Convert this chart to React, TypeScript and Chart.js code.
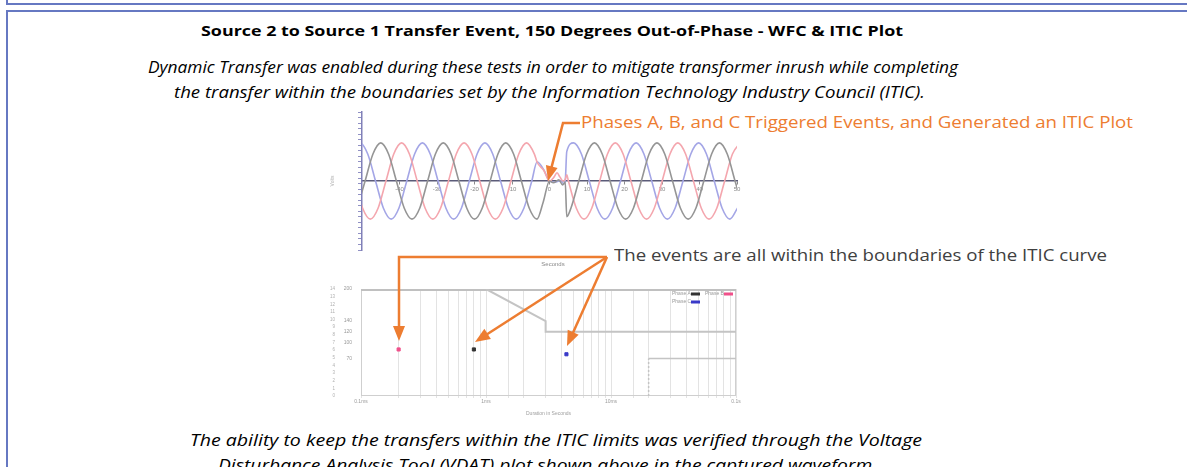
import React, { useEffect, useLayoutEffect, useRef } from "react";
import { Chart, registerables } from "chart.js";
Chart.register(...registerables);

const ORANGE = "#ED7D31";

// ---------------- Waveform capture (time in ms, voltage in V) ----------------
const waveSeriesNames = ["Phase A", "Phase B", "Phase C"];
const phaseGrayWave: [number, number][] = [
  [-51.25, -488], [-49.17, 0], [-47.08, 488], [-45.0, 690], [-42.92, 488], [-40.83, 0], [-38.75, -488], [-36.67, -690],
  [-34.58, -488], [-32.5, 0], [-30.42, 488], [-28.33, 690], [-26.25, 488], [-24.17, 0], [-22.08, -488], [-20.0, -690],
  [-17.92, -488], [-15.83, 0], [-13.75, 488], [-11.67, 690], [-9.58, 488], [-7.5, 0], [-5.42, -488], [-3.33, -690],
  [-1.67, -380], [0.0, 0], [1.0, -30], [2.5, 20], [3.5, -70], [4.2, -20], [4.6, -646], [5.73, -488], [7.81, 0],
  [9.9, 488], [11.98, 690], [14.06, 488], [16.15, 0], [18.23, -488], [20.31, -690], [22.4, -488], [24.48, 0],
  [26.56, 488], [28.65, 690], [30.73, 488], [32.81, 0], [34.9, -488], [36.98, -690], [39.06, -488], [41.15, 0],
  [43.23, 488], [45.32, 690], [47.4, 488], [49.48, 0], [51.56, -488],
];
const phasePinkWave: [number, number][] = [
  [-51.94, 0], [-49.86, -488], [-47.78, -690], [-45.69, -488], [-43.61, 0], [-41.53, 488], [-39.44, 690], [-37.36, 488],
  [-35.28, 0], [-33.19, -488], [-31.11, -690], [-29.03, -488], [-26.94, 0], [-24.86, 488], [-22.78, 690], [-20.69, 488],
  [-18.61, 0], [-16.53, -488], [-14.44, -690], [-12.36, -488], [-10.28, 0], [-8.19, 488], [-6.11, 690], [-4.03, 488],
  [-3.3, 340], [-1.5, 190], [0.0, 0], [1.2, 70], [2.0, 150], [2.8, 70], [3.6, 0], [4.2, 30], [4.6, 113], [5.04, 0],
  [7.13, -488], [9.21, -690], [11.29, -488], [13.38, 0], [15.46, 488], [17.54, 690], [19.63, 488], [21.71, 0],
  [23.79, -488], [25.88, -690], [27.96, -488], [30.04, 0], [32.13, 488], [34.21, 690], [36.29, 488], [38.38, 0],
  [40.46, -488], [42.54, -690], [44.63, -488], [46.71, 0], [48.79, 488], [50.88, 690],
];
const phaseBlueWave: [number, number][] = [
  [-52.64, 488], [-50.56, 690], [-48.47, 488], [-46.39, 0], [-44.31, -488], [-42.22, -690], [-40.14, -488], [-38.06, 0],
  [-35.97, 488], [-33.89, 690], [-31.81, 488], [-29.72, 0], [-27.64, -488], [-25.56, -690], [-23.47, -488], [-21.39, 0],
  [-19.31, 488], [-17.22, 690], [-15.14, 488], [-13.06, 0], [-10.97, -488], [-8.89, -690], [-6.81, -488], [-4.72, 0],
  [-3.3, 350], [-1.5, 200], [0.0, 0], [1.5, -20], [3.0, 10], [3.8, -50], [4.2, 0], [4.6, 532], [6.43, 690],
  [8.51, 488], [10.6, 0], [12.68, -488], [14.76, -690], [16.85, -488], [18.93, 0], [21.01, 488], [23.1, 690],
  [25.18, 488], [27.26, 0], [29.35, -488], [31.43, -690], [33.51, -488], [35.6, 0], [37.68, 488], [39.77, 690],
  [41.85, 488], [43.93, 0], [46.01, -488], [48.1, -690], [50.18, -488],
];
const waveXTickValues = [-40, -30, -20, -10, 0, 10, 20, 30, 40, 50];
const waveXTickLabels = ["-40", "-30", "-20", "-10", "0", "10", "20", "30", "40", "50"];
const waveYTickValues = [-1000, -500, 0, 500, 1000];
const waveYTickLabels = ["-1000", "-500", "0", "500", "1000"];

// ---------------- ITIC plot (duration in ms, magnitude in %) ----------------
const iticUpperLimit: [number, number][] = [[1, 200], [3, 140], [3, 120], [100, 120]];
const iticLowerLimit: [number, number][] = [[20, 0], [20, 70], [100, 70]];
const phaseLabels = ["Phase A", "Phase B", "Phase C"];
const phaseColors = ["#333333", "#f0508a", "#3a3ac8"];
const eventDuration = [0.8, 0.2, 4.4];
const eventMagnitude = [87, 87, 78];
const iticXTickValues = [0.1, 1, 10, 100];
const iticXTickLabels = ["0.1ms", "1ms", "10ms", "0.1s"];
const iticYTickValues = [70, 100, 120, 140, 200];
const iticYTickLabels = ["70", "100", "120", "140", "200"];

const TINY = "'Liberation Sans', Arial, sans-serif";

function WaveChart() {
  const ref = useRef<HTMLCanvasElement>(null);
  useEffect(() => {
    const waves = [phaseGrayWave, phasePinkWave, phaseBlueWave];
    const colors = ["#959595", "#f4a6ae", "#a4a6e6"];
    const chart = new Chart(ref.current!, {
      type: "line",
      data: {
        datasets: waves.map((w, i) => ({
          label: waveSeriesNames[i],
          data: w.map(([x, y]) => ({ x, y })),
          borderColor: colors[i],
          borderWidth: 1.6,
          pointRadius: 0,
          cubicInterpolationMode: "monotone" as const,
          fill: false,
        })),
      },
      options: {
        animation: false,
        responsive: false,
        events: [],
        layout: { padding: { top: 6, right: 8, bottom: 26, left: 0 } },
        plugins: { legend: { display: false }, tooltip: { enabled: false } },
        scales: {
          x: {
            type: "linear",
            min: -50,
            max: 50,
            position: { y: 0 } as any,
            afterBuildTicks: (s: any) => {
              s.ticks = waveXTickValues.map((v) => ({ value: v }));
            },
            ticks: {
              autoSkip: false,
              maxRotation: 0,
              font: { size: 6, family: TINY },
              color: "#8a8a8a",
              padding: 2,
              callback: (v: any) => {
                const i = waveXTickValues.indexOf(Number(v));
                return i >= 0 ? waveXTickLabels[i] : "";
              },
            },
            grid: { drawOnChartArea: false, tickLength: 3, color: "#8a8a8a" },
            border: { color: "#5b5b78", width: 1.5 },
          },
          y: {
            min: -1250,
            max: 1250,
            ticks: {
              stepSize: 100,
              autoSkip: false,
              font: { size: 6, family: TINY },
              color: "#8a8a8a",
              padding: 1,
              callback: (v: any) => {
                const i = waveYTickValues.indexOf(Number(v));
                return i >= 0 ? waveYTickLabels[i] : "";
              },
            },
            grid: { drawOnChartArea: false, tickLength: 4, color: "#9090c4" },
            border: { color: "#8080b8", width: 1.5 },
            title: { display: true, text: "Volts", font: { size: 5, family: TINY }, color: "#b0b0b0", padding: 0 },
            afterFit: (s: any) => {
              s.width = 32;
            },
          },
        },
      },
    });
    return () => chart.destroy();
  }, []);
  return (
    <canvas
      ref={ref}
      width={415}
      height={170}
      style={{ position: "absolute", left: 330, top: 106, width: 415, height: 170, filter: "blur(0.55px)" }}
    />
  );
}

function IticChart() {
  const ref = useRef<HTMLCanvasElement>(null);
  useEffect(() => {
    const frame = {
      id: "frame",
      beforeDatasetsDraw(chart: any) {
        const { ctx, chartArea } = chart;
        const { left, top, right, bottom } = chartArea;
        ctx.save();
        ctx.strokeStyle = "#cfcfcf";
        ctx.lineWidth = 1;
        ctx.strokeRect(left + 0.5, top + 0.5, right - left - 1, bottom - top - 1);
        ctx.strokeStyle = "#c0c0c0";
        ctx.lineWidth = 2;
        ctx.beginPath();
        ctx.moveTo(left, top + 1);
        ctx.lineTo(right, top + 1);
        ctx.stroke();
        ctx.restore();
      },
    };
    const legendBox = {
      id: "legendBox",
      afterDraw(chart: any) {
        const { ctx, chartArea } = chart;
        const rows = [[0, 1], [2]];
        ctx.save();
        ctx.font = `5px ${TINY}`;
        ctx.textBaseline = "middle";
        rows.forEach((row, r) => {
          const y = chartArea.top + 5 + r * 8;
          row.forEach((idx, c) => {
            const x = chartArea.right - 64 + c * 33;
            ctx.fillStyle = "#999";
            ctx.fillText(phaseLabels[idx], x, y);
            ctx.fillStyle = phaseColors[idx];
            ctx.fillRect(x + 19, y - 1.5, 9, 3);
          });
        });
        ctx.restore();
      },
    };
    const near = (a: number, b: number) => Math.abs(a - b) < 1e-9 * Math.max(1, Math.abs(b));
    const chart = new Chart(ref.current!, {
      type: "scatter",
      data: {
        datasets: [
          {
            label: "ITIC upper",
            data: iticUpperLimit.map(([x, y]) => ({ x, y })),
            showLine: true,
            borderColor: "#c4c4c4",
            borderWidth: 2,
            pointRadius: 0,
          },
          {
            label: "ITIC lower",
            data: iticLowerLimit.map(([x, y]) => ({ x, y })),
            showLine: true,
            borderColor: "#c4c4c4",
            borderWidth: 1.5,
            pointRadius: 0,
            segment: { borderDash: (ctx: any) => (ctx.p0DataIndex === 0 ? [2, 2] : undefined) },
          } as any,
          ...phaseLabels.map((lbl, i) => ({
            label: lbl,
            data: [{ x: eventDuration[i], y: eventMagnitude[i] }],
            backgroundColor: phaseColors[i],
            borderColor: phaseColors[i],
            pointStyle: "rect" as const,
            pointRadius: 2.2,
            showLine: false,
          })),
        ],
      },
      options: {
        animation: false,
        responsive: false,
        events: [],
        layout: { padding: { top: 6, right: 9, bottom: 0, left: 0 } },
        plugins: { legend: { display: false }, tooltip: { enabled: false } },
        scales: {
          x: {
            type: "logarithmic",
            min: 0.1,
            max: 100,
            ticks: {
              autoSkip: false,
              maxRotation: 0,
              font: { size: 5, family: TINY },
              color: "#9a9a9a",
              padding: 1,
              callback: (v: any) => {
                const i = iticXTickValues.findIndex((t) => near(Number(v), t));
                return i >= 0 ? iticXTickLabels[i] : "";
              },
            },
            grid: { color: "#e3e3e3", tickLength: 2 },
            border: { display: false },
            title: { display: true, text: "Duration in Seconds", font: { size: 5, family: TINY }, color: "#a0a0a0", padding: 1 },
            afterFit: (s: any) => {
              s.height = 22;
            },
          },
          y: {
            min: 0,
            max: 200,
            weight: 0,
            afterBuildTicks: (s: any) => {
              s.ticks = iticYTickValues.map((v) => ({ value: v }));
            },
            ticks: {
              autoSkip: false,
              font: { size: 5, family: TINY },
              color: "#9a9a9a",
              padding: 1,
              callback: (v: any) => {
                const i = iticYTickValues.indexOf(Number(v));
                return i >= 0 ? iticYTickLabels[i] : "";
              },
            },
            grid: { display: false },
            border: { display: false },
            afterFit: (s: any) => {
              s.width = 17;
            },
          },
          y2: {
            position: "left",
            min: 0,
            max: 14,
            weight: 1,
            ticks: { stepSize: 1, autoSkip: false, font: { size: 4.5, family: TINY }, color: "#b0b0b0", padding: 1 },
            grid: { display: false },
            border: { display: false },
            afterFit: (s: any) => {
              s.width = 14;
            },
          },
        },
      },
      plugins: [frame, legendBox],
    });
    return () => chart.destroy();
  }, []);
  return (
    <canvas
      ref={ref}
      width={415}
      height={135}
      style={{ position: "absolute", left: 330, top: 283, width: 415, height: 135, filter: "blur(0.4px)" }}
    />
  );
}

type TextSpec = {
  text: string;
  left: number;
  width: number;
  baseline: number;
  size: number;
  color: string;
  bold?: boolean;
  italic?: boolean;
};

function FitText({ spec }: { spec: TextSpec }) {
  const ref = useRef<HTMLDivElement>(null);
  useLayoutEffect(() => {
    const fit = () => {
      const el = ref.current;
      if (!el) return;
      el.style.transform = "none";
      const w = el.getBoundingClientRect().width;
      if (w > 0) el.style.transform = `scaleX(${spec.width / w})`;
    };
    fit();
    (document as any).fonts?.ready?.then(fit);
  }, [spec]);
  return (
    <div
      ref={ref}
      style={{
        position: "absolute",
        left: spec.left,
        top: spec.baseline - 0.888 * spec.size,
        fontFamily: "'Open Sans', sans-serif",
        fontSize: spec.size,
        lineHeight: `${spec.size}px`,
        fontWeight: spec.bold ? 700 : 400,
        fontStyle: spec.italic ? "italic" : "normal",
        color: spec.color,
        whiteSpace: "nowrap",
        display: "inline-block",
        transformOrigin: "0 0",
      }}
    >
      {spec.text}
    </div>
  );
}

const textBlocks: TextSpec[] = [
  { text: "Source 2 to Source 1 Transfer Event, 150 Degrees Out-of-Phase - WFC & ITIC Plot", left: 201, width: 702, baseline: 36, size: 14, color: "#000", bold: true },
  { text: "Dynamic Transfer was enabled during these tests in order to mitigate transformer inrush while completing", left: 148, width: 810, baseline: 73, size: 16, color: "#000", italic: true },
  { text: "the transfer within the boundaries set by the Information Technology Industry Council (ITIC).", left: 174, width: 751, baseline: 98, size: 16, color: "#000", italic: true },
  { text: "Phases A, B, and C Triggered Events, and Generated an ITIC Plot", left: 581, width: 552, baseline: 128, size: 16, color: ORANGE },
  { text: "The events are all within the boundaries of the ITIC curve", left: 614, width: 493, baseline: 261, size: 16, color: "#404040" },
  { text: "The ability to keep the transfers within the ITIC limits was verified through the Voltage", left: 190, width: 732, baseline: 446, size: 16, color: "#000", italic: true },
  { text: "Disturbance Analysis Tool (VDAT) plot shown above in the captured waveform.", left: 218, width: 659, baseline: 471, size: 16, color: "#000", italic: true },
];

function arrow(from: [number, number], tip: [number, number], len = 15, half = 6) {
  const dx = tip[0] - from[0];
  const dy = tip[1] - from[1];
  const L = Math.hypot(dx, dy);
  const ux = dx / L;
  const uy = dy / L;
  const bx = tip[0] - ux * len;
  const by = tip[1] - uy * len;
  return {
    base: [bx + ux * 2, by + uy * 2] as [number, number],
    head: `${tip[0]},${tip[1]} ${bx - uy * half},${by + ux * half} ${bx + uy * half},${by - ux * half}`,
  };
}

function Annotations() {
  const a1 = arrow([563, 123], [548, 181]);
  const a2 = arrow([399, 257], [399, 341]);
  const a3 = arrow([607, 257], [475, 342]);
  const a4 = arrow([607, 257], [567, 346]);
  const stroke = { stroke: ORANGE, strokeWidth: 2.5, fill: "none", strokeLinejoin: "miter" as const };
  return (
    <svg width={1187} height={467} style={{ position: "absolute", left: 0, top: 0 }}>
      <polyline points={`580,123 563,123 ${a1.base[0]},${a1.base[1]}`} {...stroke} />
      <polygon points={a1.head} fill={ORANGE} />
      <polyline points={`607,257 399,257 ${a2.base[0]},${a2.base[1]}`} {...stroke} />
      <polygon points={a2.head} fill={ORANGE} />
      <polyline points={`607,257 ${a3.base[0]},${a3.base[1]}`} {...stroke} />
      <polygon points={a3.head} fill={ORANGE} />
      <polyline points={`607,257 ${a4.base[0]},${a4.base[1]}`} {...stroke} />
      <polygon points={a4.head} fill={ORANGE} />
    </svg>
  );
}

export default function App() {
  return (
    <div
      style={{
        position: "fixed",
        left: 0,
        top: 0,
        width: 1187,
        height: 467,
        overflow: "hidden",
        background: "#fff",
      }}
    >
      <div
        style={{
          position: "absolute",
          left: 6,
          top: -18,
          width: 1200,
          height: 19,
          border: "2px solid #6678c2",
        }}
      />
      <div
        style={{
          position: "absolute",
          left: 6,
          top: 10,
          width: 1200,
          height: 500,
          border: "2px solid #6678c2",
        }}
      />
      {textBlocks.map((t, i) => (
        <FitText key={i} spec={t} />
      ))}
      <WaveChart />
      <div
        style={{
          position: "absolute",
          left: 531,
          top: 261,
          width: 44,
          textAlign: "center",
          fontFamily: TINY,
          fontSize: 6,
          color: "#8a8a8a",
          filter: "blur(0.3px)",
        }}
      >
        Seconds
      </div>
      <IticChart />
      <Annotations />
    </div>
  );
}
